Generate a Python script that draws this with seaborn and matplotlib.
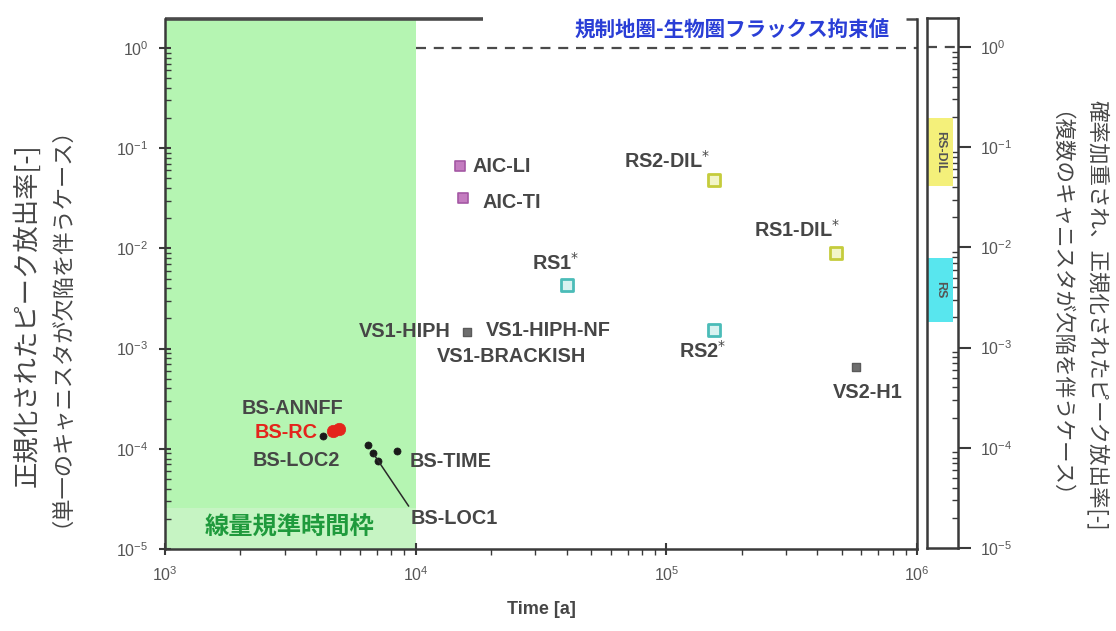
import matplotlib
matplotlib.use("Agg")
import matplotlib.pyplot as plt
import numpy as np
import pandas as pd
import seaborn as sns

# ---- data -------------------------------------------------------------
aic_cases = ["AIC-LI", "AIC-TI"]
aic_time = [14960, 15380]
aic_rate = [0.0664, 0.0318]

vs_cases = ["VS1-HIPH", "VS2-H1"]
vs_time = [15960, 571000]
vs_rate = [1.465e-3, 6.55e-4]

rs_cases = ["RS1", "RS2"]
rs_time = [40330, 155000]
rs_rate = [4.31e-3, 1.53e-3]

rsdil_cases = ["RS1-DIL", "RS2-DIL"]
rsdil_time = [475000, 155000]
rsdil_rate = [9.0e-3, 0.048]

bs_cases = ["BS-ANNFF", "BS-LOC1", "BS-LOC1", "BS-LOC1", "BS-TIME"]
bs_time = [4260, 6440, 6750, 7070, 8400]
bs_rate = [1.34e-4, 1.09e-4, 9.1e-5, 7.6e-5, 9.5e-5]

bsrc_time = [4670, 4930]
bsrc_rate = [1.51e-4, 1.58e-4]

band_names = ["RS-DIL", "RS"]
band_low = [0.041, 0.0018]
band_high = [0.195, 0.0079]

flux_constraint = 1.0
dose_window = [1e3, 1e4]

x_ticks = [1e3, 1e4, 1e5, 1e6]
y_ticks = [1e-5, 1e-4, 1e-3, 1e-2, 1e-1, 1e0]

# ---- style ------------------------------------------------------------
sns.set_style("ticks")
plt.rcParams["font.family"] = ["Liberation Sans", "Noto Sans CJK JP", "DejaVu Sans"]
CJK = ["Noto Sans CJK JP", "DejaVu Sans"]
TXT = "#464646"
SPINE = "#3a3a3a"

W, H = 1116, 631
fig = plt.figure(figsize=(W / 100, H / 100), dpi=100)
ax = fig.add_axes([165 / W, 1 - 549 / H, (917 - 165) / W, (549 - 19) / H])
ax2 = fig.add_axes([927 / W, 1 - 548 / H, (958 - 927) / W, (548 - 18) / H])

XLIM = (1e3, 1e6)
YLIM = (1e-5, 10 ** 0.29)

# dose-criterion time window
ax.axvspan(dose_window[0], dose_window[1], color="#b5f5b2", lw=0, zorder=0)
ax.fill_between(dose_window, 1e-5, 10 ** -4.59, color="#c6f4c3", lw=0, zorder=0.5)
ax.text(3150, 1.62e-5, "線量規準時間枠", family=CJK, fontsize=17.5, fontweight="bold",
        color="#1f9a3c", ha="center", va="center")

# regulatory flux constraint
ax.plot([dose_window[1], XLIM[1]], [flux_constraint, flux_constraint],
        ls=(0, (4.5, 3.5)), color="#4a4a4a", lw=1.6, zorder=1)
ax2.axhline(flux_constraint, ls=(0, (4.5, 3.5)), color="#4a4a4a", lw=1.6)
ax.text(43200, 1.50, "規制地圏-生物圏フラックス拘束値", family=CJK, fontsize=14.8,
        fontweight="bold", color="#2a3ed6", ha="left", va="center")

# ---- points -----------------------------------------------------------
def scatter(xs, ys, **kw):
    df = pd.DataFrame({"t": xs, "r": ys})
    sns.scatterplot(data=df, x="t", y="r", ax=ax, legend=False, zorder=3, **kw)

scatter(aic_time, aic_rate, marker="s", s=62, color="#c47cc0", edgecolor="#a458a4", linewidth=1.2)
scatter(vs_time, vs_rate, marker="s", s=40, color="#6e6e6e", edgecolor="#5a5a5a", linewidth=1)
scatter(rs_time, rs_rate, marker="s", s=70, color="#d8f2f0", edgecolor="#4bbcb8", linewidth=2)
scatter(rsdil_time, rsdil_rate, marker="s", s=70, color="#f2f5c8", edgecolor="#c5cc3c", linewidth=2)
scatter(bs_time, bs_rate, marker="o", s=26, color="#1a1a1a", edgecolor="#1a1a1a", linewidth=0.5)
scatter(bsrc_time, bsrc_rate, marker="o", s=80, color="#e4241c", edgecolor="#e4241c", linewidth=0.5)

# ---- labels -----------------------------------------------------------
LBL = dict(fontsize=14.3, fontweight="bold", color=TXT, textcoords="offset pixels",
           va="center")

def label(text, x, y, dx, dy, ha="left", **kw):
    opts = dict(LBL)
    opts.update(kw)
    ax.annotate(text, (x, y), xytext=(dx, dy), ha=ha, **opts)

label("AIC-LI", aic_time[0], aic_rate[0], 13, 0)
label("AIC-TI", aic_time[1], aic_rate[1], 20, -4)
label("VS1-HIPH", vs_time[0], vs_rate[0], -16, 1, ha="right")
label("VS1-HIPH-NF", vs_time[0], vs_rate[0], 19, 2)
label("VS1-BRACKISH", vs_time[0], vs_rate[0], -30, -24)
label("VS2-H1", vs_time[1], vs_rate[1], 12, -25, ha="center")
label("RS1$^{*}$", rs_time[0], rs_rate[0], 12, 22, ha="right")
label("RS2$^{*}$", rs_time[1], rs_rate[1], 12, -21, ha="right")
label("RS1-DIL$^{*}$", rsdil_time[0], rsdil_rate[0], 4, 23, ha="right")
label("RS2-DIL$^{*}$", rsdil_time[1], rsdil_rate[1], -4, 19, ha="right")
label("BS-ANNFF", bs_time[0], bs_rate[0], 20, 28, ha="right")
label("BS-RC", bsrc_time[0], bsrc_rate[0], -15, -2, ha="right", color="#e4241c")
label("BS-LOC2", bs_time[0], bs_rate[0], 17, -24, ha="right")
label("BS-TIME", bs_time[4], bs_rate[4], 13, -10)
ax.annotate("BS-LOC1", (bs_time[2], bs_rate[2]), xytext=(38, -66),
            textcoords="offset pixels", ha="left", va="center", fontsize=14.3,
            fontweight="bold", color=TXT,
            arrowprops=dict(arrowstyle="-", color="#2a2a2a", lw=1.1,
                            relpos=(0.0, 1.0), shrinkA=0, shrinkB=2))

# ---- main axes formatting --------------------------------------------
ax.set_xscale("log")
ax.set_yscale("log")
ax.set_xlim(XLIM)
ax.set_ylim(YLIM)
ax.set_xticks(x_ticks)
ax.set_yticks(y_ticks)
ax.set_xlabel("Time [a]", fontsize=13, fontweight="bold", color=TXT, labelpad=12)
ax.set_ylabel("")
for side in ("left", "bottom", "right"):
    ax.spines[side].set_color(SPINE)
    ax.spines[side].set_linewidth(1.8)
ax.spines["top"].set_visible(False)
# upper frame line, broken where the constraint label sits
ax.plot([XLIM[0], 10 ** 4.267], [1, 1], transform=ax.get_xaxis_transform(),
        color="#4a4a4a", lw=2.6, clip_on=False, solid_capstyle="butt")
ax.plot([10 ** 5.956, XLIM[1]], [1, 1], transform=ax.get_xaxis_transform(),
        color="#4a4a4a", lw=1.8, clip_on=False, solid_capstyle="butt")

ax.tick_params(which="major", direction="inout", length=8, width=1.5, color=SPINE,
               labelsize=11.5, labelcolor="#555555", pad=8)
ax.tick_params(axis="y", which="minor", direction="in", length=4, width=1, color=SPINE)
ax.tick_params(axis="x", which="minor", direction="out", length=4, width=1, color=SPINE)
ax.tick_params(right=False, top=False, which="both")

# ---- side panel: probability-weighted ranges -------------------------
ax2.set_yscale("log")
ax2.set_ylim(YLIM)
ax2.set_xlim(0, 1)
ax2.set_xticks([])
ax2.set_yticks(y_ticks)
ax2.yaxis.tick_right()
ax2.tick_params(axis="y", which="major", direction="out", length=9, width=1.5, color=SPINE,
                labelsize=11.5, labelcolor="#555555", pad=7)
ax2.tick_params(axis="y", which="minor", direction="in", length=4, width=1, color=SPINE)
for sp in ax2.spines.values():
    sp.set_color(SPINE)
    sp.set_linewidth(1.8)
band_colors = ["#f4f07a", "#58e6ee"]
for name, lo, hi, c in zip(band_names, band_low, band_high, band_colors):
    ax2.axhspan(lo, hi, xmin=0.03, xmax=0.84, color=c, lw=0)
    ax2.text(0.43, np.sqrt(lo * hi), name, rotation=-90, ha="center", va="center",
             fontsize=9, fontweight="bold", color="#555555")

# ---- axis titles ------------------------------------------------------
fig.text(27 / W, 0.5, "正規化されたピーク放出率[-]", rotation=90, family=CJK,
         fontsize=19, color=TXT, ha="center", va="center")
fig.text(50 / W, 0.5, "（単一のキャニスタが欠陥を伴うケース）", rotation=90, family=CJK,
         fontsize=16, color=TXT, ha="center", va="center")
fig.text(1098 / W, 0.5, "確率加重され、正規化されたピーク放出率[-]", rotation=-90, family=CJK,
         fontsize=15.5, color=TXT, ha="center", va="center")
fig.text(1048 / W, 0.5, "（複数のキャニスタが欠陥を伴うケース）", rotation=-90, family=CJK,
         fontsize=15.5, color=TXT, ha="center", va="center")

fig.savefig("out.png", dpi=100, facecolor="white")
